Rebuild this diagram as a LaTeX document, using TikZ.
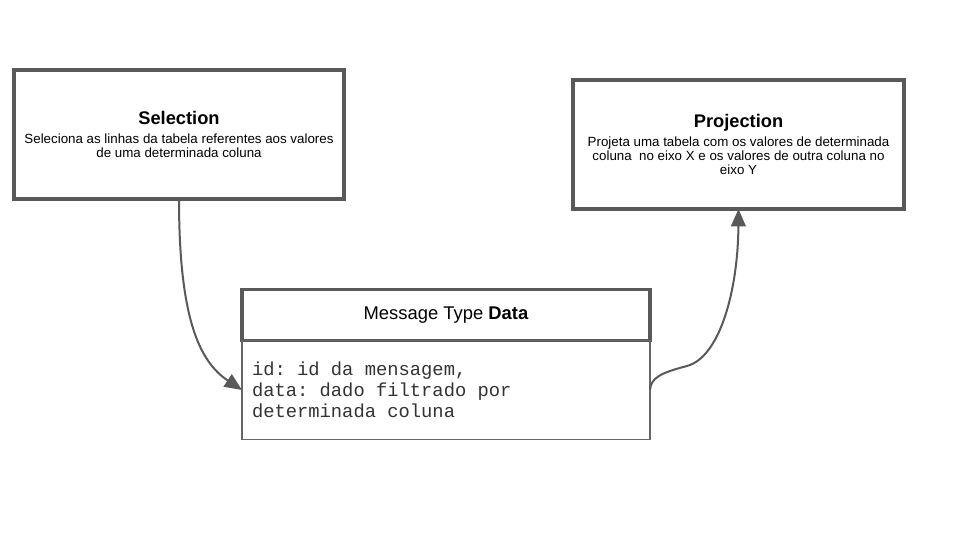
\documentclass[tikz,border=0pt]{standalone}
\usepackage{fontspec}
\setmainfont{Liberation Sans}
\setmonofont{Liberation Mono}
\usetikzlibrary{positioning,arrows.meta}
\definecolor{boxgray}{RGB}{89,89,89}
\definecolor{linegray}{RGB}{102,102,102}
\definecolor{codegray}{RGB}{51,51,51}
\newcommand\fullspace{\spaceskip=0pt\xspaceskip=0pt\relax}
\begin{document}
\begin{tikzpicture}[x=0.75pt, y=-0.75pt,
    every node/.style={outer sep=0pt, inner sep=0pt},
    opbox/.style={draw=boxgray, line width=3pt, fill=white, align=center,
      minimum height=96.75pt, font=\fontsize{10}{10.6}\selectfont},
    headbox/.style={draw=boxgray, line width=2.4pt, minimum width=306pt,
      minimum height=38.25pt, font=\fontsize{13.8}{16}\selectfont},
    bodybox/.style={draw=linegray, line width=1pt, minimum width=306pt,
      minimum height=74.25pt, text width=291pt, align=left,
      text=codegray, font=\fontsize{14.1}{15.75}\ttfamily},
    flow/.style={draw=boxgray, line width=1.5pt,
      -{Triangle[length=13pt,width=11pt]}}]
  \useasboundingbox (0,0) rectangle (960,540);
  % operations
  \node[opbox, minimum width=247.5pt] (selection) at (179,134.5)
    {{\fontsize{13.7}{16}\selectfont\bfseries Selection}\\[4pt]
     Seleciona as linhas da tabela referentes aos valores\\
     de uma determinada coluna};
  \node[opbox, minimum width=248.25pt] (projection) at (738.5,144.5)
    {{\fontsize{13.7}{16}\selectfont\bfseries Projection}\\[4pt]
     Projeta uma tabela com os valores de determinada\\
     coluna~ no eixo X e os valores de outra coluna no\\
     eixo Y};
  % message type
  \node[headbox] (msghead) at (446,315) {Message Type \textbf{Data}};
  \node[bodybox, below=0pt of msghead] (msgbody)
    {\fullspace id: id da mensagem,\\data: dado filtrado por\\determinada coluna};
  % connectors
  \coordinate (bend) at (687,366);
  \draw[flow] (selection.south) .. controls (179,320) and (200,362) .. (msgbody.west);
  \draw[flow] (msgbody.east) .. controls (651,378) and (660,373) .. (bend)
    .. controls (720,357) and (738,290) .. (projection.south);
\end{tikzpicture}
\end{document}
